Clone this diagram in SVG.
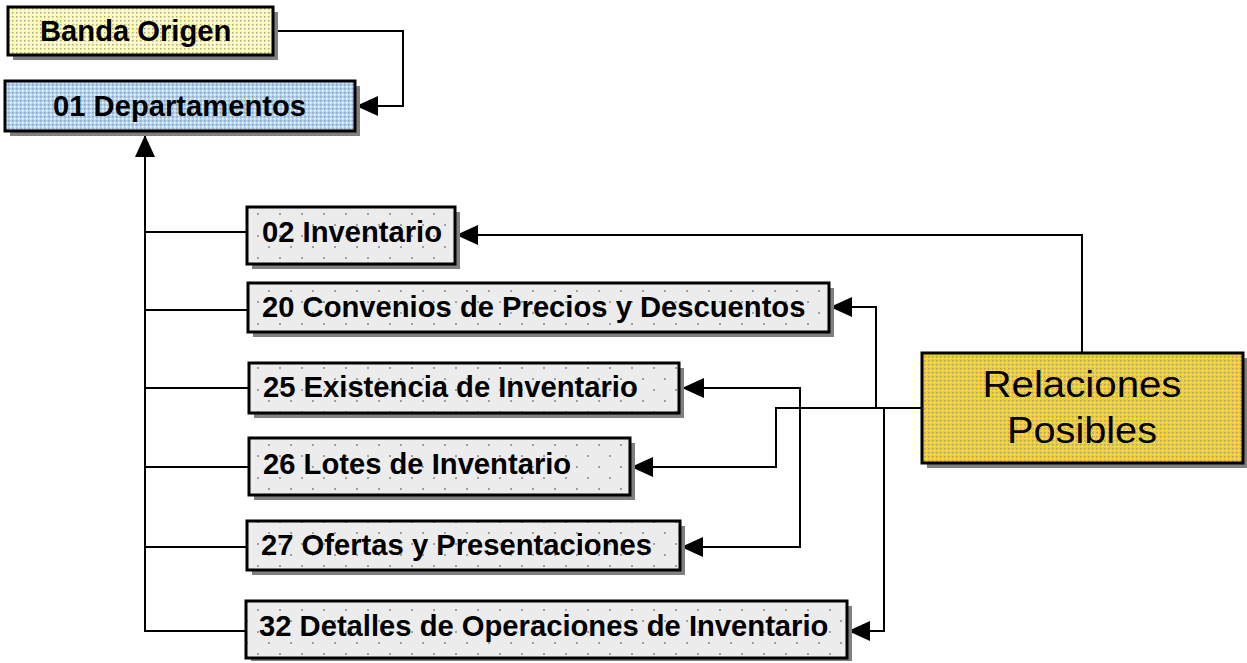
<svg xmlns="http://www.w3.org/2000/svg" width="1247" height="663" viewBox="0 0 1247 663">
<style>
.box{stroke:#000;stroke-width:3}
.sh{fill:#808080}
.lbl{font-family:"Liberation Sans",Arial,sans-serif;font-weight:bold;font-size:29.2px;fill:#000}
.big{font-family:"Liberation Sans",Arial,sans-serif;font-size:37px;fill:#000;text-anchor:middle}
.con{fill:none;stroke:#000;stroke-width:2}
</style>
<defs>
<pattern id="pGray" x="0" y="0" width="22" height="22" patternUnits="userSpaceOnUse">
<rect width="22" height="22" fill="#ececec"/>
<rect x="4" y="4" width="2" height="2" fill="#a0a0a0"/>
<rect x="15" y="15" width="2" height="2" fill="#a0a0a0"/>
</pattern>
<pattern id="pYel" x="0" y="0" width="4" height="4" patternUnits="userSpaceOnUse">
<rect width="4" height="4" fill="#ffff99"/>
<rect x="0" y="0" width="1.5" height="1.5" fill="#a8a8a0"/>
<rect x="2" y="2" width="1.5" height="1.5" fill="#ffffff"/>
</pattern>
<pattern id="pBlue" x="0" y="0" width="4" height="4" patternUnits="userSpaceOnUse">
<rect width="4" height="4" fill="#a6d2ff"/>
<rect x="0" y="0" width="1.5" height="1.5" fill="#a0a0a0"/>
<rect x="2" y="2" width="1.5" height="1.5" fill="#ffffff"/>
</pattern>
<pattern id="pGold" x="0" y="0" width="4" height="4" patternUnits="userSpaceOnUse">
<rect width="4" height="4" fill="#ffd000"/>
<rect x="0" y="0" width="1.5" height="1.5" fill="#a8a090"/>
<rect x="2" y="2" width="1" height="1" fill="#fff2a0"/>
</pattern>
<marker id="arr" viewBox="0 0 22 20" refX="21" refY="10" markerWidth="22" markerHeight="20" markerUnits="userSpaceOnUse" orient="auto">
<path d="M0,0 L22,10 L0,20 z" fill="#000"/>
</marker>
</defs>

<g id="connectors">
<path class="con" d="M273,31 H403 V106 H357" marker-end="url(#arr)"/>
<path class="con" d="M246,631 H145 V136" marker-end="url(#arr)"/>
<path class="con" d="M145,232 H247"/>
<path class="con" d="M145,310 H248"/>
<path class="con" d="M145,388 H249"/>
<path class="con" d="M145,467 H249"/>
<path class="con" d="M145,547 H247"/>
<path class="con" d="M1082,353 V235 H457" marker-end="url(#arr)"/>
<path class="con" d="M922,408 H776 V467 H632" marker-end="url(#arr)"/>
<path class="con" d="M876,408 V307 H831" marker-end="url(#arr)"/>
<path class="con" d="M884,408 V631 H849" marker-end="url(#arr)"/>
<path class="con" d="M800,408 V388 H683" marker-end="url(#arr)"/>
<path class="con" d="M800,408 V547 H682" marker-end="url(#arr)"/>
</g>

<g id="banda-origen">
<rect class="sh" x="13" y="12" width="265" height="48"/>
<rect class="box" x="8" y="7" width="265" height="48" fill="url(#pYel)"/>
<text class="lbl" x="40" y="41">Banda Origen</text>
</g>

<g id="departamentos">
<rect class="sh" x="10" y="86" width="350" height="50"/>
<rect class="box" x="5" y="81" width="350" height="50" fill="url(#pBlue)"/>
<text class="lbl" x="53" y="116">01 Departamentos</text>
</g>

<g id="inventario">
<rect class="sh" x="252" y="212" width="208" height="57"/>
<rect class="box" x="247" y="207" width="208" height="57" fill="url(#pGray)"/>
<text class="lbl" x="262" y="242">02 Inventario</text>
</g>

<g id="convenios">
<rect class="sh" x="253" y="288" width="581" height="49"/>
<rect class="box" x="248" y="283" width="581" height="49" fill="url(#pGray)"/>
<text class="lbl" x="262" y="317">20 Convenios de Precios y Descuentos</text>
</g>

<g id="existencia">
<rect class="sh" x="254" y="368" width="430" height="50"/>
<rect class="box" x="249" y="363" width="430" height="50" fill="url(#pGray)"/>
<text class="lbl" x="263" y="397">25 Existencia de Inventario</text>
</g>

<g id="lotes">
<rect class="sh" x="254" y="443" width="381" height="57"/>
<rect class="box" x="249" y="438" width="381" height="57" fill="url(#pGray)"/>
<text class="lbl" x="263" y="474">26 Lotes de Inventario</text>
</g>

<g id="ofertas">
<rect class="sh" x="252" y="526" width="433" height="49"/>
<rect class="box" x="247" y="521" width="433" height="49" fill="url(#pGray)"/>
<text class="lbl" x="261" y="555">27 Ofertas y Presentaciones</text>
</g>

<g id="detalles">
<rect class="sh" x="251" y="606" width="601" height="55"/>
<rect class="box" x="246" y="601" width="601" height="57" fill="url(#pGray)"/>
<text class="lbl" x="259" y="636">32 Detalles de Operaciones de Inventario</text>
</g>

<g id="relaciones">
<rect class="sh" x="927" y="358" width="321" height="110"/>
<rect class="box" x="922" y="353" width="321" height="110" fill="url(#pGold)"/>
<text class="big" x="1082" y="397" textLength="199" lengthAdjust="spacingAndGlyphs">Relaciones</text>
<text class="big" x="1082" y="443" textLength="150" lengthAdjust="spacingAndGlyphs">Posibles</text>
</g>
</svg>
